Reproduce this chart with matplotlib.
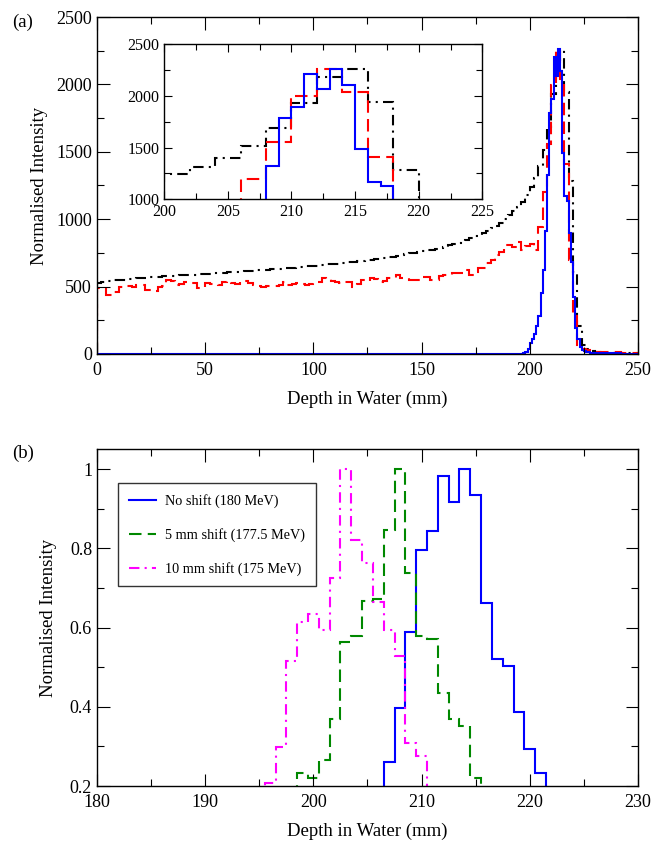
import numpy as np
import matplotlib
matplotlib.use("Agg")
import matplotlib.pyplot as plt
from matplotlib.ticker import MultipleLocator, FuncFormatter
from matplotlib.lines import Line2D

plt.rcParams['font.family'] = ['Liberation Serif', 'DejaVu Serif']

# ---- panel (a): depth profiles in water (2 mm bins for red / black) ----
edges_2mm = np.arange(0, 252, 2)

black_a = [
    530, 535, 540, 543, 546, 549, 552, 555, 558, 561,
    563, 566, 568, 571, 573, 575, 577, 579, 581, 583,
    585, 587, 589, 591, 593, 595, 597, 599, 601, 603,
    605, 607, 609, 611, 613, 615, 617, 620, 622, 625,
    627, 630, 632, 635, 638, 641, 644, 647, 650, 653,
    656, 659, 662, 665, 668, 671, 674, 677, 680, 684,
    688, 692, 696, 700, 704, 708, 713, 718, 723, 728,
    734, 740, 746, 751, 756, 762, 768, 774, 781, 789,
    797, 806, 815, 825, 836, 847, 859, 872, 886, 900,
    916, 933, 952, 975, 1000, 1028, 1058, 1092, 1130, 1180,
    1241, 1309, 1396, 1515, 1686, 1927, 2178, 2256, 1943, 1283,
    610, 210, 70, 35, 22, 15, 12, 10, 9, 8,
    7, 6, 5, 5, 4,
]

red_a = [
    487, 480, 437, 440, 462, 500, 498, 503, 495, 512,
    515, 475, 478, 470, 500, 505, 549, 545, 512, 520,
    537, 530, 525, 487, 490, 525, 520, 517, 515, 537,
    540, 530, 517, 541, 538, 530, 515, 502, 500, 505,
    506, 505, 510, 537, 512, 518, 525, 522, 515, 520,
    537, 535, 566, 555, 540, 537, 530, 537, 535, 500,
    520, 549, 545, 561, 558, 537, 540, 561, 563, 586,
    561, 560, 549, 552, 549, 573, 570, 549, 552, 575,
    586, 588, 598, 600, 598, 623, 586, 610, 635, 640,
    672, 700, 735, 760, 805, 808, 790, 830, 770, 800,
    815, 770, 944, 1200, 1557, 1998, 2256, 2037, 1406, 700,
    280, 70, 40, 28, 22, 18, 15, 14, 12, 12,
    11, 10, 10, 9, 9,
]

# blue: one wide bin up to 197 mm, then 1 mm bins
blue_a_edges = [0] + list(range(197, 251))
blue_a = [
    2,
    10, 15, 35, 80, 110, 150, 210, 280, 450, 620,
    910, 1325, 1789, 1888, 2207, 2062, 2259, 2101, 1489, 1171,
    1132, 900, 680, 420, 190, 110, 55, 30, 20, 14,
    11, 10, 9, 8, 8, 7, 7, 6, 6, 5,
    5, 5, 4, 4, 4, 3, 3, 3, 3, 2,
    2, 2, 2,
]

# ---- panel (b): normalised Bragg peaks, 1 mm bins centred on integers ----
blue_b_centres = list(range(205, 224))
blue_b = [0.10, 0.15, 0.26, 0.397, 0.589, 0.796, 0.844, 0.983, 0.917, 1.0,
          0.935, 0.662, 0.52, 0.502, 0.388, 0.293, 0.234, 0.15, 0.10]

green_b_centres = list(range(198, 217))
green_b = [0.12, 0.234, 0.219, 0.266, 0.369, 0.563, 0.578, 0.667, 0.671, 0.846,
           1.0, 0.737, 0.578, 0.572, 0.436, 0.369, 0.352, 0.22, 0.15]

magenta_b_centres = list(range(195, 212))
magenta_b = [0.15, 0.207, 0.298, 0.515, 0.614, 0.633, 0.593, 0.726, 1.0, 0.82,
             0.764, 0.664, 0.595, 0.527, 0.308, 0.276, 0.15]

legend_labels = ["No shift (180 MeV)", "5 mm shift (177.5 MeV)", "10 mm shift (175 MeV)"]

DASH = (0, (6, 3))
DASHDOT = (0, (5, 2.5, 1, 2.5))
GREEN = "#008800"


def centre_edges(centres):
    c = np.asarray(centres, dtype=float)
    return np.append(c - 0.5, c[-1] + 0.5)


def style_axes(ax, tick_size, maj_len, min_len, xpad=5.5):
    ax.tick_params(which='both', direction='in', top=True, right=True,
                   labelsize=tick_size, width=0.8)
    ax.tick_params(which='major', length=maj_len)
    ax.tick_params(which='minor', length=min_len)
    ax.tick_params(axis='x', pad=xpad)
    for s in ax.spines.values():
        s.set_linewidth(1.0)


fig = plt.figure(figsize=(6.53, 8.42), dpi=100)

# panel (a)
ax_a = fig.add_axes([0.1485, 0.5796, 0.8285, 0.4002])
ax_a.stairs(black_a, edges_2mm, color='black', linewidth=1.5, linestyle=DASHDOT)
ax_a.stairs(red_a, edges_2mm, color='red', linewidth=1.5, linestyle=DASH)
ax_a.stairs(blue_a, blue_a_edges, color='blue', linewidth=1.5)
ax_a.set_xlim(0, 250)
ax_a.set_ylim(0, 2500)
ax_a.xaxis.set_major_locator(MultipleLocator(50))
ax_a.xaxis.set_minor_locator(MultipleLocator(25))
ax_a.yaxis.set_major_locator(MultipleLocator(500))
ax_a.yaxis.set_minor_locator(MultipleLocator(250))
style_axes(ax_a, 13, 9, 5)
ax_a.set_xlabel("Depth in Water (mm)", fontsize=13.5, labelpad=9)
ax_a.set_ylabel("Normalised Intensity", fontsize=13.5, labelpad=6)

# inset
ax_in = fig.add_axes([0.2516, 0.7633, 0.487, 0.1844])
ax_in.stairs(black_a, edges_2mm, color='black', linewidth=1.5, linestyle=DASHDOT)
ax_in.stairs(red_a, edges_2mm, color='red', linewidth=1.5, linestyle=DASH)
ax_in.stairs(blue_a, blue_a_edges, color='blue', linewidth=1.5)
ax_in.set_xlim(200, 225)
ax_in.set_ylim(1000, 2500)
ax_in.xaxis.set_major_locator(MultipleLocator(5))
ax_in.xaxis.set_minor_locator(MultipleLocator(2.5))
ax_in.yaxis.set_major_locator(MultipleLocator(500))
ax_in.yaxis.set_minor_locator(MultipleLocator(250))
style_axes(ax_in, 11.5, 6, 4, xpad=3.5)

# panel (b)
ax_b = fig.add_axes([0.1485, 0.0665, 0.8285, 0.4002])
ax_b.stairs(blue_b, centre_edges(blue_b_centres), color='blue', linewidth=1.5)
ax_b.stairs(green_b, centre_edges(green_b_centres), color=GREEN, linewidth=1.5, linestyle=DASH)
ax_b.stairs(magenta_b, centre_edges(magenta_b_centres), color='magenta', linewidth=1.5,
            linestyle=DASHDOT)
ax_b.set_xlim(180, 230)
ax_b.set_ylim(0.2, 1.0505)
ax_b.xaxis.set_major_locator(MultipleLocator(10))
ax_b.xaxis.set_minor_locator(MultipleLocator(5))
ax_b.yaxis.set_major_locator(MultipleLocator(0.2))
ax_b.yaxis.set_minor_locator(MultipleLocator(0.1))
ax_b.yaxis.set_major_formatter(FuncFormatter(lambda v, _: f"{v:g}"))
style_axes(ax_b, 13, 9, 5)
ax_b.set_xlabel("Depth in Water (mm)", fontsize=13.5, labelpad=9)
ax_b.set_ylabel("Normalised Intensity", fontsize=13.5, labelpad=9)

handles = [
    Line2D([], [], color='blue', linewidth=1.5),
    Line2D([], [], color=GREEN, linewidth=1.5, linestyle=DASH),
    Line2D([], [], color='magenta', linewidth=1.5, linestyle=DASHDOT),
]
leg = ax_b.legend(handles, legend_labels, loc='upper left', bbox_to_anchor=(0.0388, 0.899),
                  borderaxespad=0, fontsize=10.3, frameon=True, fancybox=False,
                  edgecolor='black', labelspacing=1.4, handlelength=1.9,
                  handletextpad=0.65, borderpad=0.75)
leg.get_frame().set_linewidth(1.0)

fig.text(0.0184, 1 - 22 / 842, "(a)", fontsize=13.5, va='center', ha='left')
fig.text(0.0184, 1 - 453 / 842, "(b)", fontsize=13.5, va='center', ha='left')

fig.savefig("out.png", dpi=100)
